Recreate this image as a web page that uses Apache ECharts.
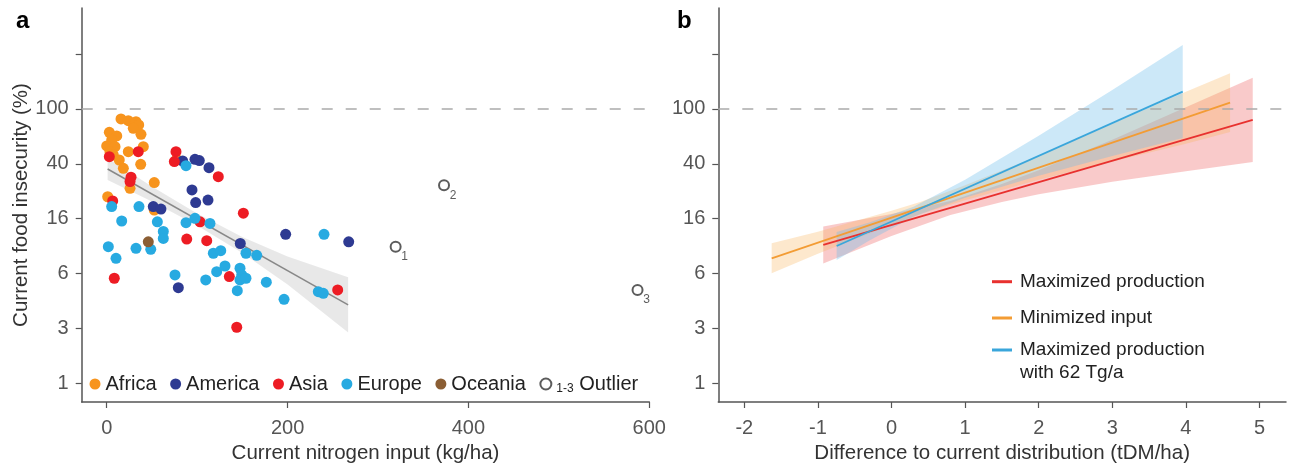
<!DOCTYPE html>
<html><head><meta charset="utf-8">
<script src="https://cdn.jsdelivr.net/npm/echarts@6/dist/echarts.min.js"></script>
<style>html,body{margin:0;padding:0;background:#fff}#c{width:1290px;height:471px}</style>
</head><body><div id="c"></div>
<script>
// ---------- tick labels ----------
const yTickValues = [1, 2.5, 6.25, 15.625, 39.0625, 97.65625, 244.140625];
const yTickLabels = ['1', '3', '6', '16', '40', '100', ''];
const refLineValue = 97.65625; // the "100" reference line
const xTicksA = [0, 200, 400, 600];
const xTicksB = [-2, -1, 0, 1, 2, 3, 4, 5];

// ---------- panel a: scatter ----------
const africaX = [15.8, 23.9, 32.4, 35.4, 29.4, 37.9, 2.9, 11.1, 5.5, 0, 9.2, 23.9, 40.5, 3.6, 7.3, 13.9, 18.4, 37.6, 77.4, 52.6, 25.8, 1.1, 52.6];
const africaY = [82.6, 80.3, 78.9, 74.7, 70.7, 63.9, 66.1, 62.2, 58.1, 52.6, 52.0, 47.8, 52.0, 47.8, 45.3, 41.6, 36.2, 38.7, 42.1, 28.5, 25.9, 22.5, 18.0];
const americaX = [84.0, 97.6, 102.4, 113.1, 94.3, 98.4, 112.0, 51.5, 60.0, 147.7, 197.9, 267.6, 79.2];
const americaY = [40.9, 42.1, 41.2, 36.6, 25.2, 20.4, 21.3, 19.1, 18.3, 10.3, 12.0, 10.6, 4.92];
const asiaX = [34.9, 2.9, 76.6, 74.8, 26.9, 25.8, 123.4, 6.6, 151.1, 103.2, 88.5, 110.6, 8.4, 135.6, 255.4, 143.8];
const asiaY = [47.8, 44.0, 47.8, 40.5, 31.2, 29.0, 31.5, 21.0, 17.1, 14.8, 11.1, 10.8, 5.76, 5.92, 4.74, 2.54];
const europeX = [87.7, 5.5, 35.7, 16.6, 56.0, 87.7, 97.6, 114.2, 62.6, 62.6, 1.8, 32.4, 48.7, 10.3, 117.9, 126.1, 154.0, 165.9, 75.5, 109.5, 121.6, 130.8, 147.4, 149.3, 147.4, 154.0, 176.5, 144.4, 196.1, 234.0, 239.5, 240.3];
const europeY = [37.8, 19.1, 19.1, 15.0, 14.8, 14.6, 15.7, 14.4, 12.6, 11.2, 9.77, 9.51, 9.35, 8.04, 8.75, 9.13, 8.75, 8.46, 6.09, 5.60, 6.43, 7.07, 6.81, 6.09, 5.60, 5.76, 5.39, 4.68, 4.05, 4.60, 4.48, 12.0];
const oceaniaX = [46.0];
const oceaniaY = [10.6];
const outlierX = [319.5, 373, 587];
const outlierY = [9.77, 27.3, 4.74];
const outlierLabels = ['1', '2', '3'];

// regression line and confidence band (panel a)
const regX = [1, 267];
const regY = [35.8, 3.69];
const regBandX = [1, 50, 100, 150, 200, 267];
const regBandHi = [43.0, 26.7, 17.0, 11.5, 8.27, 5.85];
const regBandLo = [29.8, 20.8, 13.9, 8.77, 5.18, 2.33];

// ---------- panel b: lines with bands ----------
const prodName = 'Maximized production';
const prodLineX = [-0.927, 4.908];
const prodLineY = [10.05, 81.36];
const prodBandX = [-0.927, -0.5, 0, 0.8, 1.5, 2, 3, 4, 4.908];
const prodBandHi = [13.69, 15.05, 16.84, 20.97, 27.87, 35.06, 58.32, 100.3, 164.2];
const prodBandLo = [7.38, 9.11, 11.66, 16.60, 20.63, 23.48, 28.90, 34.41, 40.31];

const inputName = 'Minimized input';
const inputLineX = [-1.628, 4.6];
const inputLineY = [8.04, 108.5];
const inputBandX = [-1.628, -1, 0, 0.4, 1, 2, 3, 4, 4.6];
const inputBandHi = [10.33, 12.56, 17.84, 20.74, 27.32, 44.7, 76.4, 130.4, 177.7];
const inputBandLo = [6.26, 8.69, 14.12, 16.97, 21.26, 29.95, 40.5, 54.6, 66.3];

const capName = 'Maximized production\nwith 62 Tg/a';
const capLineX = [-0.745, 3.957];
const capLineY = [9.88, 130.6];
const capBandX = [-0.745, -0.3, 0.3, 1, 2, 3, 3.957];
const capBandHi = [12.49, 14.66, 19.07, 29.93, 62.30, 134.0, 284.2];
const capBandLo = [7.82, 10.85, 16.13, 22.15, 31.92, 44.46, 60.02];

// ---------- styling ----------
const FONT = '"Liberation Sans", Arial, Helvetica, sans-serif';
const AXIS_COLOR = '#555';
const C = {
  africa: '#F7941D', america: '#2E3A92', asia: '#ED1C24', europe: '#27AAE1', oceania: '#8B5E34',
  red: '#E8312F', orange: '#F39C34', blue: '#3AA6DB'
};

function zip(xs, ys) { return xs.map((x, i) => [x, ys[i]]); }
function yLabel(v) {
  let best = 0, d = 1e9;
  yTickValues.forEach((t, i) => { const dd = Math.abs(Math.log(v) - Math.log(t)); if (dd < d) { d = dd; best = i; } });
  return yTickLabels[best];
}

function yAxisCfg(gridIndex, name) {
  return {
    type: 'log', logBase: 2.5, gridIndex, min: 0.7278, max: 528,
    name: name, nameLocation: 'middle', nameGap: 50, nameRotate: 90,
    nameTextStyle: { fontFamily: FONT, fontSize: 20.5, color: '#333' },
    axisLine: { show: true, onZero: false, lineStyle: { color: AXIS_COLOR, width: 1.5 } },
    axisTick: { show: true, length: 6, customValues: yTickValues, lineStyle: { color: AXIS_COLOR, width: 1.2 } },
    axisLabel: { customValues: yTickValues.slice(0, 6), formatter: yLabel, margin: 13, fontFamily: FONT, fontSize: 20, color: '#555' },
    splitLine: { show: false }, minorTick: { show: false }, minorSplitLine: { show: false }
  };
}
function xAxisCfg(gridIndex, min, max, ticks, name) {
  return {
    type: 'value', gridIndex, min, max,
    name: name, nameLocation: 'middle', nameGap: 41,
    nameTextStyle: { fontFamily: FONT, fontSize: 20.5, color: '#333' },
    axisLine: { show: true, onZero: false, lineStyle: { color: AXIS_COLOR, width: 1.5 } },
    axisTick: { show: true, length: 6, customValues: ticks, lineStyle: { color: AXIS_COLOR, width: 1.2 } },
    axisLabel: { customValues: ticks, margin: 16, fontFamily: FONT, fontSize: 20, color: '#555' },
    splitLine: { show: false }
  };
}
function bandSeries(xi, yi, bx, hi, lo, fill, z) {
  return {
    type: 'custom', xAxisIndex: xi, yAxisIndex: yi, silent: true, z: z,
    data: [[bx[0], hi[0]]],
    renderItem: function (params, api) {
      const pts = [];
      for (let i = 0; i < bx.length; i++) pts.push(api.coord([bx[i], hi[i]]));
      for (let i = bx.length - 1; i >= 0; i--) pts.push(api.coord([bx[i], lo[i]]));
      return { type: 'polygon', shape: { points: pts }, style: { fill: fill } };
    }
  };
}
function scatter(name, xs, ys, color) {
  return {
    type: 'scatter', name, xAxisIndex: 0, yAxisIndex: 0, data: zip(xs, ys),
    symbol: 'circle', symbolSize: 11, itemStyle: { color: color, opacity: 1 }, z: 5
  };
}
const dashLine = {
  silent: true, symbol: 'none', label: { show: false },
  lineStyle: { type: [11, 13], color: '#aaa', width: 1.5 },
  data: [{ yAxis: refLineValue }]
};
function lineSeries(name, xs, ys, color, withRef) {
  const s = {
    type: 'line', name, xAxisIndex: 1, yAxisIndex: 1, data: zip(xs, ys),
    showSymbol: false, symbol: 'none', lineStyle: { color: color, width: 1.8 }, itemStyle: { color: color }, z: 4
  };
  if (withRef) s.markLine = dashLine;
  return s;
}
const legendText = { fontFamily: FONT, fontSize: 19, color: '#222', lineHeight: 23, padding: [0, 0, 0, 3] };

const chart = echarts.init(document.getElementById('c'), null, { renderer: 'canvas' });
chart.setOption({
  animation: false,
  backgroundColor: '#fff',
  textStyle: { fontFamily: FONT },
  title: [
    { text: 'a', left: 16, top: 9, padding: 0, textStyle: { fontFamily: FONT, fontSize: 24, fontWeight: 'bold', color: '#000' } },
    { text: 'b', left: 677, top: 9, padding: 0, textStyle: { fontFamily: FONT, fontSize: 24, fontWeight: 'bold', color: '#000' } }
  ],
  grid: [
    { left: 81.7, top: 8, width: 567.6, height: 394 },
    { left: 718.3, top: 8, width: 567.7, height: 394 }
  ],
  xAxis: [
    xAxisCfg(0, -27.65, 600, xTicksA, 'Current nitrogen input (kg/ha)'),
    xAxisCfg(1, -2.353, 5.36, xTicksB, 'Difference to current distribution (tDM/ha)')
  ],
  yAxis: [
    yAxisCfg(0, 'Current food insecurity (%)'),
    yAxisCfg(1, '')
  ],
  legend: [
    {
      data: ['Africa', 'America', 'Asia', 'Europe', 'Oceania', 'Outlier'],
      left: 89.5, top: 373, padding: 0, itemWidth: 11, itemHeight: 11, itemGap: 13.5, selectedMode: false,
      textStyle: { fontFamily: FONT, fontSize: 20, color: '#222', lineHeight: 22,
        rich: { s: { fontFamily: FONT, fontSize: 12, color: '#222', lineHeight: 12, verticalAlign: 'bottom' },
                n: { fontFamily: FONT, fontSize: 20, color: '#222', lineHeight: 22 } } },
      formatter: function (n) { return n === 'Outlier' ? '{s|1-3} {n|Outlier}' : n; }
    },
    {
      data: [prodName], left: 992, top: 270.2, padding: 0, icon: 'rect', itemWidth: 20, itemHeight: 3, selectedMode: false,
      textStyle: legendText
    },
    {
      data: [inputName], left: 992, top: 306.5, padding: 0, icon: 'rect', itemWidth: 20, itemHeight: 3, selectedMode: false,
      textStyle: legendText
    },
    {
      data: [capName], left: 992, top: 315.5, padding: 0, icon: 'rect', itemWidth: 20, itemHeight: 3, selectedMode: false,
      textStyle: legendText,
      formatter: function (n) { return '\u00a0\n' + n; }
    }
  ],
  series: [
    bandSeries(0, 0, regBandX, regBandHi, regBandLo, 'rgba(0,0,0,0.09)', 1),
    {
      type: 'line', name: 'fit', xAxisIndex: 0, yAxisIndex: 0, data: zip(regX, regY),
      showSymbol: false, symbol: 'none', lineStyle: { color: '#888', width: 1.5 }, z: 3,
      markLine: dashLine
    },
    scatter('Africa', africaX, africaY, C.africa),
    scatter('America', americaX, americaY, C.america),
    scatter('Asia', asiaX, asiaY, C.asia),
    scatter('Europe', europeX, europeY, C.europe),
    scatter('Oceania', oceaniaX, oceaniaY, C.oceania),
    {
      type: 'scatter', name: 'Outlier', xAxisIndex: 0, yAxisIndex: 0,
      data: outlierX.map((x, i) => ({ value: [x, outlierY[i]], label: { formatter: outlierLabels[i] } })),
      symbol: 'emptyCircle', symbolSize: 10,
      itemStyle: { color: '#333', borderWidth: 1.2 },
      label: { show: true, position: 'inside', offset: [9, 10], fontFamily: FONT, fontSize: 12, color: '#333' },
      z: 5
    },
    bandSeries(1, 1, prodBandX, prodBandHi, prodBandLo, 'rgba(235,80,80,0.3)', 1),
    bandSeries(1, 1, inputBandX, inputBandHi, inputBandLo, 'rgba(250,180,90,0.3)', 1),
    bandSeries(1, 1, capBandX, capBandHi, capBandLo, 'rgba(110,190,235,0.35)', 1),
    lineSeries(prodName, prodLineX, prodLineY, C.red, true),
    lineSeries(inputName, inputLineX, inputLineY, C.orange, false),
    lineSeries(capName, capLineX, capLineY, C.blue, false)
  ]
});
</script></body></html>
